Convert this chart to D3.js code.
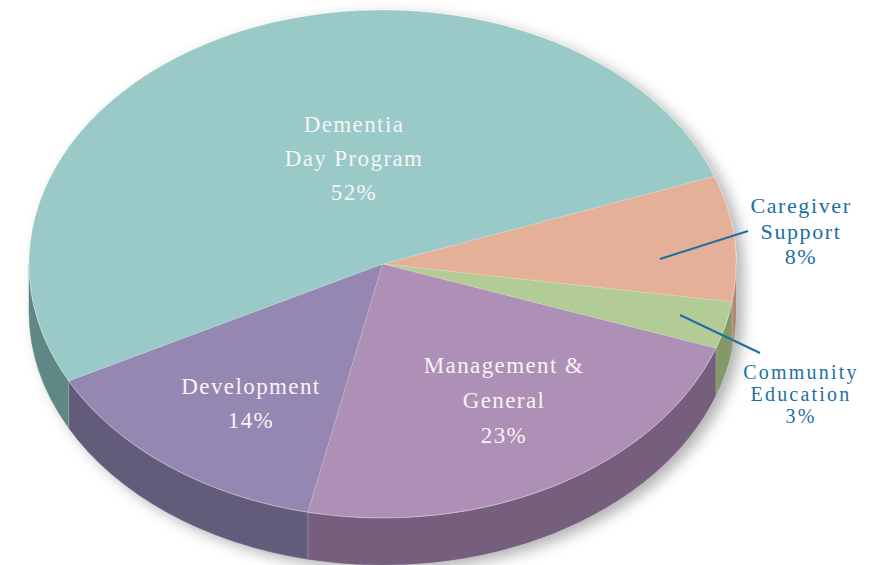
<!DOCTYPE html>
<html><head><meta charset="utf-8">
<script src="https://cdn.jsdelivr.net/npm/d3@7"></script>
<style>body{margin:0;background:#fff}svg{display:block}text{font-family:"Liberation Serif","Times New Roman",serif}</style>
</head><body>
<svg id="chart" width="870" height="565"></svg>
<script>
// ---- data ----
const categories = ["Caregiver Support", "Community Education", "Management & General", "Development", "Dementia Day Program"];
const values = [8, 3, 23, 14, 52];
const labelLines = [["Caregiver", "Support", "8%"], ["Community", "Education", "3%"], ["Management &", "General", "23%"], ["Development", "14%"], ["Dementia", "Day Program", "52%"]];
const topColors = ["#e5b098", "#b3cb94", "#ae8fb5", "#9488b2", "#99cac7"];
const sideColors = ["#b38873", "#84996b", "#765f7c", "#625b7a", "#5f8784"];

// ---- layout ----
const W = 870, H = 565;
const cx = 382.5, cy = 264, rx = 353.5, ry = 254, depth = 47;
const startAngle = 69.8 * Math.PI / 180;
const layout = {
  inside: {
    2: {x: 504, y: 373, lh: 35, size: 23, ls: 1.4},
    3: {x: 251, y: 394, lh: 34, size: 23, ls: 1.4},
    4: {x: 354, y: 132, lh: 34, size: 23, ls: 1.4}
  },
  outside: {
    0: {x: 801, y: 213, lh: 25.5, size: 22, ls: 1.6, line: [[660, 259], [748, 231]]},
    1: {x: 801, y: 379, lh: 22, size: 20, ls: 2.2, line: [[680, 315], [760, 353]]}
  }
};

const svg = d3.select("#chart");
const defs = svg.append("defs");
const f = defs.append("filter").attr("id", "shadow").attr("x", "-10%").attr("y", "-10%").attr("width", "125%").attr("height", "130%");
f.append("feDropShadow").attr("dx", 7).attr("dy", 5).attr("stdDeviation", 7).attr("flood-color", "#000").attr("flood-opacity", 0.3);

const pie = d3.pie().sort(null).value(d => d).startAngle(startAngle).endAngle(startAngle + 2 * Math.PI);
const arcs = pie(values);

const P = (a, dy = 0) => [cx + rx * Math.sin(a), cy - ry * Math.cos(a) + dy];

const pieG = svg.append("g").attr("filter", "url(#shadow)");

// sides (front half only)
const sideG = pieG.append("g");
arcs.forEach((d, i) => {
  [0, 2 * Math.PI].forEach(off => {
    const lo = Math.PI / 2 + off, hi = 3 * Math.PI / 2 + off;
    const s0 = Math.max(d.startAngle, lo), s1 = Math.min(d.endAngle, hi);
    if (s1 <= s0) return;
    const a = P(s0), b = P(s1), c = P(s1, depth), e = P(s0, depth);
    const path = `M${a}A${rx},${ry} 0 0 1 ${b}L${c}A${rx},${ry} 0 0 0 ${e}Z`;
    sideG.append("path").attr("d", path).attr("fill", sideColors[i])
      .attr("stroke", sideColors[i]).attr("stroke-width", 0.5);
    [s0, s1].forEach(s => {
      if (s === d.startAngle || s === d.endAngle) {
        sideG.append("line").attr("x1", P(s)[0]).attr("y1", P(s)[1]).attr("x2", P(s, depth)[0]).attr("y2", P(s, depth)[1])
          .attr("stroke", "#ffffff").attr("stroke-opacity", 0.25).attr("stroke-width", 0.8);
      }
    });
  });
});

// top faces
const arcGen = d3.arc().innerRadius(0).outerRadius(rx);
const topG = pieG.append("g").attr("transform", `translate(${cx},${cy}) scale(1,${ry / rx})`);
topG.selectAll("path").data(arcs).join("path")
  .attr("d", arcGen)
  .attr("fill", (d, i) => topColors[i])
  .attr("stroke", "#ffffff").attr("stroke-opacity", 0.25)
  .attr("stroke-width", 0.7).attr("vector-effect", "non-scaling-stroke");

// rim highlight along the front edge
const r0 = P(Math.PI / 2), r1 = P(3 * Math.PI / 2);
pieG.append("path").attr("d", `M${r0}A${rx},${ry} 0 0 1 ${r1}`)
  .attr("fill", "none").attr("stroke", "#ffffff").attr("stroke-opacity", 0.3).attr("stroke-width", 1);

// inside labels
Object.entries(layout.inside).forEach(([k, L]) => {
  const t = svg.append("text").attr("text-anchor", "middle")
    .attr("font-size", L.size).attr("letter-spacing", L.ls).attr("fill", "#f7f3f6");
  labelLines[+k].forEach((s, j) => {
    t.append("tspan").attr("x", L.x).attr("y", L.y + j * L.lh).text(s);
  });
});

// outside labels with leader lines
const blue = "#1d6fa3";
Object.entries(layout.outside).forEach(([k, L]) => {
  svg.append("line").attr("x1", L.line[0][0]).attr("y1", L.line[0][1])
    .attr("x2", L.line[1][0]).attr("y2", L.line[1][1])
    .attr("stroke", blue).attr("stroke-width", 2);
  const t = svg.append("text").attr("text-anchor", "middle")
    .attr("font-size", L.size).attr("letter-spacing", L.ls).attr("fill", blue);
  labelLines[+k].forEach((s, j) => {
    t.append("tspan").attr("x", L.x).attr("y", L.y + j * L.lh).text(s);
  });
});
</script>
</body></html>
